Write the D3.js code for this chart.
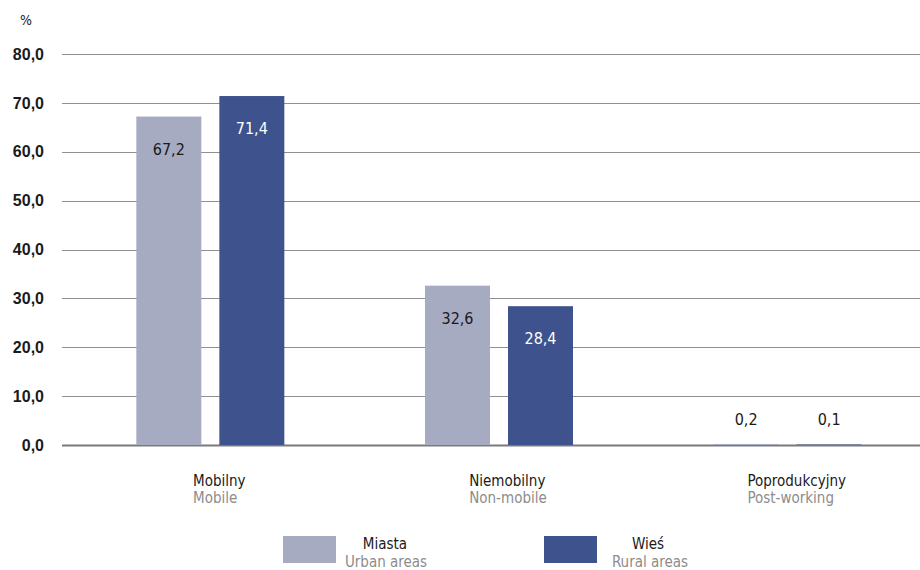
<!DOCTYPE html>
<html>
<head>
<meta charset="utf-8">
<script src="https://cdn.jsdelivr.net/npm/d3@7"></script>
<style>
    body { margin: 0; background: #fff; }
    svg { font-family: "Liberation Sans Narrow", "DejaVu Sans Condensed", "Roboto", sans-serif; }
</style>
</head>
<body>
<div id="plotSect"></div>
<script>
/* global d3 */

// Data //
let categoriesPL = ["Mobilny", "Niemobilny", "Poprodukcyjny"];
let categoriesEN = ["Mobile", "Non-mobile", "Post-working"];
let seriesPL = ["Miasta", "Wieś"];
let seriesEN = ["Urban areas", "Rural areas"];
let valuesMiasta = [67.2, 32.6, 0.2];
let valuesWies = [71.4, 28.4, 0.1];
let yTicks = [0, 10, 20, 30, 40, 50, 60, 70, 80];

let colors = ["#a6abc2", "#3e528d"];

// Chart setup //

let SVGwidth = 920,
    SVGheight = 570;

let svg = d3.select("#plotSect").append("svg")
    .attr("width", SVGwidth)
    .attr("height", SVGheight);

let yScale = d3.scaleLinear().domain([0, 80]).range([445, 54]);
let xScale = d3.scaleBand().domain(categoriesPL).range([66, 932]);
let xInner = d3.scaleBand().domain(seriesPL).range([0, 148]).paddingInner(0.217);

let fmt = function(v) { return d3.format(".1f")(v).replace(".", ","); };

// gridlines
svg.selectAll(".grid")
    .data(yTicks)
    .enter().append("line")
    .attr("class", "grid")
    .attr("x1", 62)
    .attr("x2", 920)
    .attr("y1", function(d) { return Math.round(yScale(d)) + 0.5; })
    .attr("y2", function(d) { return Math.round(yScale(d)) + 0.5; })
    .style("stroke", function(d) { return d === 0 ? "#7a7a7a" : "#8f8f8f"; })
    .style("stroke-width", function(d) { return d === 0 ? 2 : 1.2; });

// y axis labels
let yAxis = d3.axisLeft(yScale)
    .tickValues(yTicks)
    .tickFormat(fmt)
    .tickSize(0)
    .tickPadding(0);

svg.append("g")
    .attr("class", "yAxis")
    .attr("transform", "translate(44,0)")
    .call(yAxis)
    .call(function(g) { g.select(".domain").remove(); })
    .selectAll("text")
    .style("font-size", "16px")
    .style("font-weight", "bold")
    .style("fill", "#1a1a1a")
    .style("font-family", null);

svg.append("text")
    .attr("x", 26)
    .attr("y", 25)
    .style("text-anchor", "middle")
    .style("font-size", "14px")
    .style("fill", "#1a1a1a")
    .text("%");

// bars
let rows = categoriesPL.map(function(c, i) {
    return { cat: c, vals: [valuesMiasta[i], valuesWies[i]] };
});

let groupOffset = (xScale.bandwidth() - 148) / 2;

let groups = svg.selectAll(".group")
    .data(rows)
    .enter().append("g")
    .attr("class", "group")
    .attr("transform", function(d) { return "translate(" + (xScale(d.cat) + groupOffset) + ",0)"; });

groups.selectAll("rect")
    .data(function(d) { return d.vals.map(function(v, j) { return { s: seriesPL[j], v: v, j: j }; }); })
    .enter().append("rect")
    .attr("x", function(d) { return xInner(d.s); })
    .attr("width", xInner.bandwidth())
    .attr("y", function(d) { return yScale(d.v); })
    .attr("height", function(d) { return yScale(0) - yScale(d.v); })
    .style("fill", function(d) { return colors[d.j]; });

groups.selectAll(".valLabel")
    .data(function(d) { return d.vals.map(function(v, j) { return { s: seriesPL[j], v: v, j: j }; }); })
    .enter().append("text")
    .attr("class", "valLabel")
    .attr("x", function(d) { return xInner(d.s) + xInner.bandwidth() / 2; })
    .attr("y", function(d) {
        if (d.v < 5) { return yScale(0) - 20; }
        return yScale(d.v) + 38;
    })
    .style("text-anchor", "middle")
    .style("font-size", "16px")
    .style("fill", function(d) { return (d.v >= 5 && d.j === 1) ? "#ffffff" : "#1a1a1a"; })
    .text(function(d) { return fmt(d.v); });

// category labels
categoriesPL.forEach(function(c, i) {
    let cx = xScale(c) + xScale.bandwidth() / 2 + 9;
    let g = svg.append("g").attr("class", "catLabel");
    let t1 = g.append("text")
        .attr("y", 486)
        .style("font-size", "15px")
        .style("fill", "#1a1a1a")
        .text(c);
    let t2 = g.append("text")
        .attr("y", 503)
        .style("font-size", "15px")
        .style("fill", "#8c8c8c")
        .text(categoriesEN[i]);
    let w = Math.max(t1.node().getComputedTextLength(), t2.node().getComputedTextLength());
    t1.attr("x", cx - w / 2);
    t2.attr("x", cx - w / 2);
});

// legend
let legendX = [283, 544];
let legend = svg.selectAll(".legend")
    .data(seriesPL)
    .enter().append("g")
    .attr("class", "legend")
    .attr("transform", function(d, i) { return "translate(" + legendX[i] + ",536)"; });

legend.append("rect")
    .attr("width", 53)
    .attr("height", 27)
    .style("fill", function(d, i) { return colors[i]; });

legend.append("text")
    .attr("x", function(d, i) { return i === 0 ? 102 : 104; })
    .attr("y", 13)
    .style("text-anchor", "middle")
    .style("font-size", "15px")
    .style("fill", "#1a1a1a")
    .text(function(d) { return d; });

legend.append("text")
    .attr("x", function(d, i) { return i === 0 ? 103 : 106; })
    .attr("y", 31)
    .style("text-anchor", "middle")
    .style("font-size", "15px")
    .style("fill", "#8c8c8c")
    .text(function(d, i) { return seriesEN[i]; });
</script>
</body>
</html>
